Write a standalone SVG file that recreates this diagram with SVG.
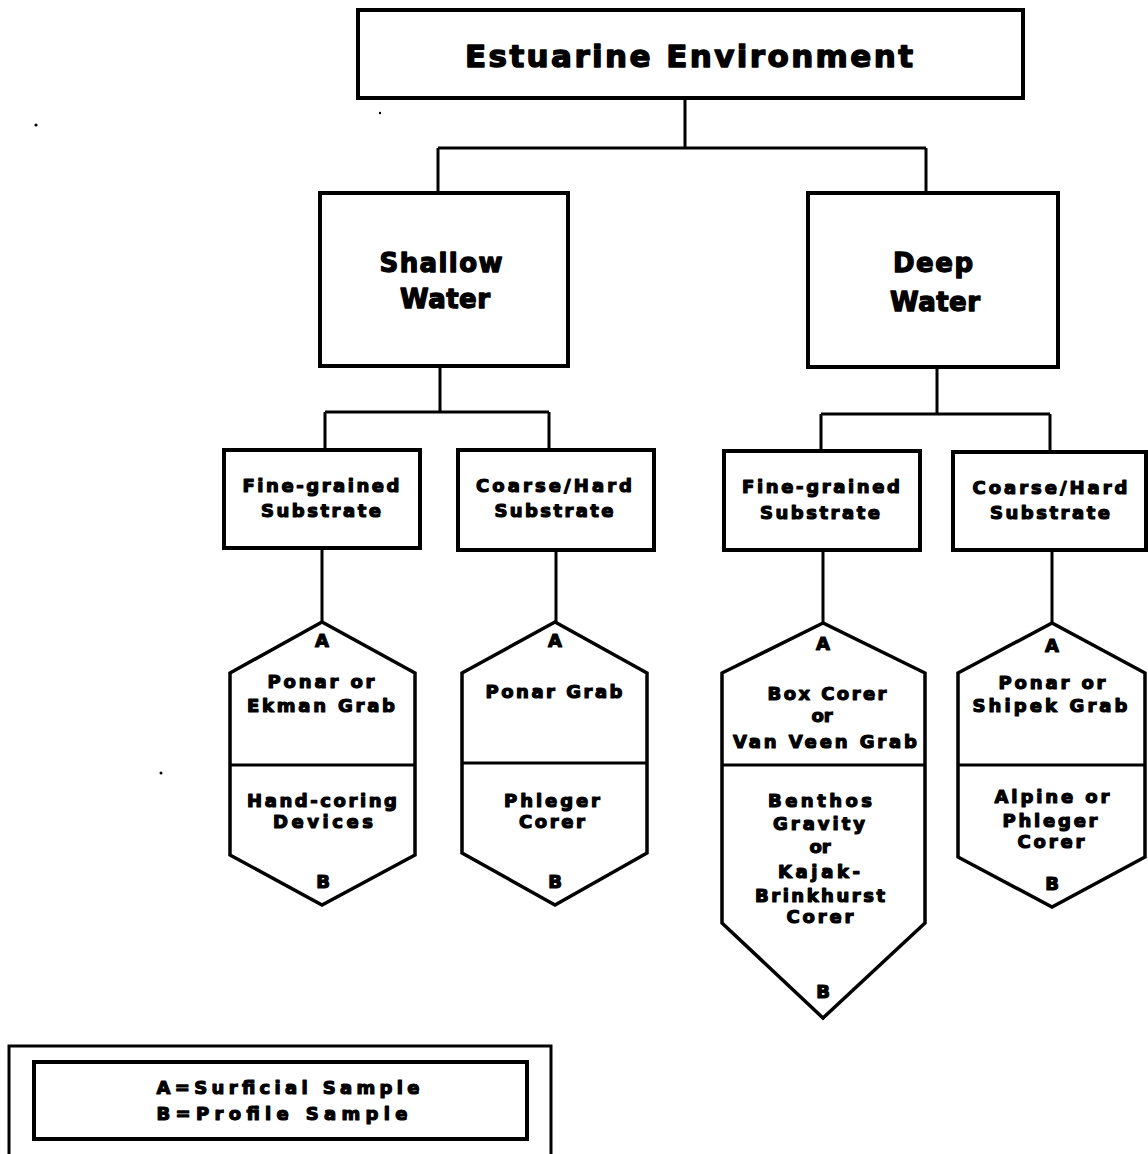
<svg xmlns="http://www.w3.org/2000/svg" width="1148" height="1154" viewBox="0 0 1148 1154">
  <style>
    .box { fill: #fff; stroke: #000; stroke-width: 4; }
    .hex { fill: #fff; stroke: #000; stroke-width: 3.5; stroke-linejoin: miter; }
    .div { stroke: #000; stroke-width: 3; }
    .wire { stroke: #000; stroke-width: 3; fill: none; }
    text { font-family: "DejaVu Sans", "Liberation Sans", Arial, sans-serif; font-weight: bold; fill: #000; stroke: #000; stroke-width: 1.2; stroke-linejoin: round; text-anchor: middle; }
    .t1 { font-size: 31px; stroke-width: 1.4; }
    .t2 { font-size: 26px; stroke-width: 1.3; }
    .t3 { font-size: 18px; }
    .speck { fill: #000; }
  </style>

  <rect width="1148" height="1154" fill="#fff"/>

  <!-- scan specks -->
  <circle class="speck" cx="36" cy="125" r="1.6"/>
  <circle class="speck" cx="380" cy="113" r="1.2"/>
  <circle class="speck" cx="161" cy="773" r="1.5"/>

  <!-- connectors -->
  <g id="connectors">
    <path class="wire" d="M685 99 V148 M438 148 H926 M438 148 V193 M926 148 V193"/>
    <path class="wire" d="M440 366 V412 M325 412 H549 M325 412 V450 M549 412 V450"/>
    <path class="wire" d="M937 367 V414 M821 414 H1050 M821 414 V452 M1050 414 V452"/>
    <path class="wire" d="M322 548 V622 M556 550 V622 M823 550 V623 M1052 550 V623"/>
  </g>

  <!-- root -->
  <g id="estuarine">
    <rect class="box" x="358" y="10" width="665" height="88"/>
    <text class="t1" x="689" y="67" textLength="448" lengthAdjust="spacing">Estuarine Environment</text>
  </g>

  <!-- depth level -->
  <g id="shallow">
    <rect class="box" x="320" y="193" width="248" height="173"/>
    <text class="t2" x="441" y="272" textLength="123" lengthAdjust="spacing">Shallow</text>
    <text class="t2" x="445" y="308" textLength="90" lengthAdjust="spacing">Water</text>
  </g>
  <g id="deep">
    <rect class="box" x="808" y="193" width="250" height="174"/>
    <text class="t2" x="933" y="272" textLength="80" lengthAdjust="spacing">Deep</text>
    <text class="t2" x="935" y="311" textLength="90" lengthAdjust="spacing">Water</text>
  </g>

  <!-- substrate level -->
  <g id="shallow-fine">
    <rect class="box" x="224" y="450" width="196" height="98"/>
    <text class="t3" x="321" y="492" textLength="157" lengthAdjust="spacing">Fine-grained</text>
    <text class="t3" x="321" y="517" textLength="120" lengthAdjust="spacing">Substrate</text>
  </g>
  <g id="shallow-coarse">
    <rect class="box" x="458" y="450" width="196" height="100"/>
    <text class="t3" x="554" y="492" textLength="156" lengthAdjust="spacing">Coarse/Hard</text>
    <text class="t3" x="554" y="517" textLength="119" lengthAdjust="spacing">Substrate</text>
  </g>
  <g id="deep-fine">
    <rect class="box" x="724" y="451" width="196" height="99"/>
    <text class="t3" x="821" y="493" textLength="158" lengthAdjust="spacing">Fine-grained</text>
    <text class="t3" x="820" y="519" textLength="120" lengthAdjust="spacing">Substrate</text>
  </g>
  <g id="deep-coarse">
    <rect class="box" x="953" y="452" width="193" height="98"/>
    <text class="t3" x="1050" y="494" textLength="155" lengthAdjust="spacing">Coarse/Hard</text>
    <text class="t3" x="1050" y="519" textLength="120" lengthAdjust="spacing">Substrate</text>
  </g>

  <!-- sampler hexagons: A = surficial (top), B = profile (bottom) -->
  <g id="shallow-fine-samplers">
    <polygon class="hex" points="322,622 230,673 230,855 322,905 415,855 415,673"/>
    <line class="div" x1="230" y1="765" x2="415" y2="765"/>
    <text class="t3" x="322" y="647">A</text>
    <text class="t3" x="321" y="688" textLength="107" lengthAdjust="spacing">Ponar or</text>
    <text class="t3" x="321" y="712" textLength="148" lengthAdjust="spacing">Ekman Grab</text>
    <text class="t3" x="322" y="807" textLength="150" lengthAdjust="spacing">Hand-coring</text>
    <text class="t3" x="323" y="828" textLength="100" lengthAdjust="spacing">Devices</text>
    <text class="t3" x="323" y="888">B</text>
  </g>
  <g id="shallow-coarse-samplers">
    <polygon class="hex" points="555,622 462,673 462,853 555,905 647,853 647,673"/>
    <line class="div" x1="462" y1="763" x2="647" y2="763"/>
    <text class="t3" x="555" y="647">A</text>
    <text class="t3" x="554" y="698" textLength="137" lengthAdjust="spacing">Ponar Grab</text>
    <text class="t3" x="552" y="807" textLength="96" lengthAdjust="spacing">Phleger</text>
    <text class="t3" x="552" y="828" textLength="66" lengthAdjust="spacing">Corer</text>
    <text class="t3" x="555" y="888">B</text>
  </g>
  <g id="deep-fine-samplers">
    <polygon class="hex" points="823,623 722,673 722,923 823,1018 925,923 925,673"/>
    <line class="div" x1="722" y1="765" x2="925" y2="765"/>
    <text class="t3" x="823" y="650">A</text>
    <text class="t3" x="827" y="700" textLength="119" lengthAdjust="spacing">Box Corer</text>
    <text class="t3" x="822" y="722">or</text>
    <text class="t3" x="825" y="748" textLength="184" lengthAdjust="spacing">Van Veen Grab</text>
    <text class="t3" x="820" y="807" textLength="104" lengthAdjust="spacing">Benthos</text>
    <text class="t3" x="819" y="830" textLength="92" lengthAdjust="spacing">Gravity</text>
    <text class="t3" x="820" y="853">or</text>
    <text class="t3" x="819" y="878" textLength="82" lengthAdjust="spacing">Kajak-</text>
    <text class="t3" x="820" y="902" textLength="130" lengthAdjust="spacing">Brinkhurst</text>
    <text class="t3" x="820" y="923" textLength="67" lengthAdjust="spacing">Corer</text>
    <text class="t3" x="823" y="998">B</text>
  </g>
  <g id="deep-coarse-samplers">
    <polygon class="hex" points="1052,623 958,673 958,857 1052,907 1145,857 1145,673"/>
    <line class="div" x1="958" y1="765" x2="1145" y2="765"/>
    <text class="t3" x="1052" y="652">A</text>
    <text class="t3" x="1052" y="689" textLength="107" lengthAdjust="spacing">Ponar or</text>
    <text class="t3" x="1050" y="712" textLength="155" lengthAdjust="spacing">Shipek Grab</text>
    <text class="t3" x="1052" y="803" textLength="115" lengthAdjust="spacing">Alpine or</text>
    <text class="t3" x="1050" y="827" textLength="95" lengthAdjust="spacing">Phleger</text>
    <text class="t3" x="1051" y="848" textLength="67" lengthAdjust="spacing">Corer</text>
    <text class="t3" x="1052" y="890">B</text>
  </g>

  <!-- key -->
  <g id="legend">
    <path class="wire" d="M9 1156 V1046 H551 V1156" stroke-width="3.5"/>
    <rect class="box" x="34" y="1062" width="493" height="77" stroke-width="3.5"/>
    <text class="t3" x="288" y="1094" textLength="263" lengthAdjust="spacing">A=Surficial Sample</text>
    <text class="t3" x="282" y="1120" textLength="251" lengthAdjust="spacing">B=Profile Sample</text>
  </g>
</svg>
